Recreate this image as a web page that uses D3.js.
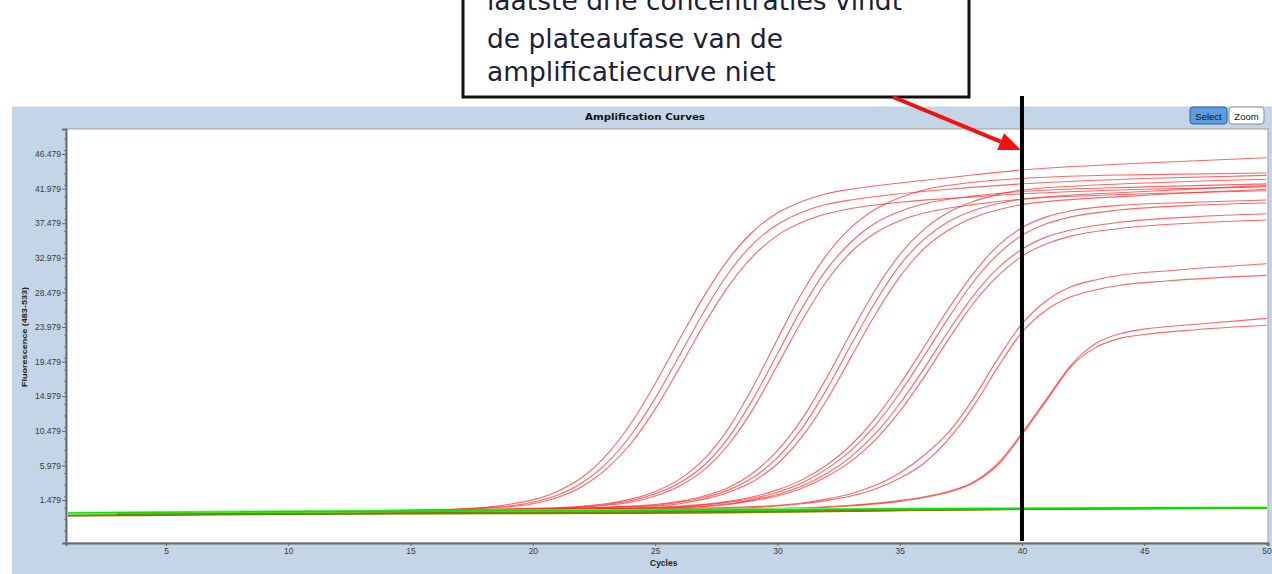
<!DOCTYPE html>
<html>
<head>
<meta charset="utf-8">
<script src="https://cdn.jsdelivr.net/npm/d3@7"></script>
<style>
body{margin:0;background:#fff;}
svg{display:block;}
</style>
</head>
<body>
<script>
// ---- data: [cycle, fluorescence] ----
const xTicks = [5, 10, 15, 20, 25, 30, 35, 40, 45, 50];
const yTicks = [1.479, 5.979, 10.479, 14.979, 19.479, 23.979, 28.479, 32.979, 37.479, 41.979, 46.479];

const curvesA = [
  [[1,-0.6],[3,-0.5],[8,-0.1],[13,0.1],[17,0.3],[19,0.9],[20,1.5],[21,2.6],[22,4.4],[23,7.3],[24,11.4],[25,16.6],[26,22.4],[27,28.0],[28,32.8],[29,36.4],[30,38.8],[31,40.3],[32,41.3],[33,41.9],[35,42.7],[37,43.4],[40,44.4],[45,45.3],[50,46.0]],
  [[1,-0.5],[8,-0.2],[15,0.1],[19,0.7],[20,1.2],[21,2.1],[22,3.7],[23,6.2],[24,9.9],[25,14.7],[26,20.3],[27,26.0],[28,31.0],[29,34.8],[30,37.3],[31,38.9],[32,39.9],[33,40.5],[35,41.3],[37,41.9],[40,42.6],[45,43.3],[50,43.7]],
  [[1,-0.5],[8,-0.2],[15,0.1],[19,0.6],[20,1.0],[21,1.8],[22,3.2],[23,5.5],[24,8.8],[25,13.3],[26,18.7],[27,24.3],[28,29.3],[29,33.2],[30,35.9],[31,37.6],[32,38.7],[33,39.4],[35,40.2],[37,40.7],[40,41.3],[45,41.9],[50,42.2]]
];
const curvesB = [
  [[1,-0.4],[10,0.0],[20,0.4],[23,1.0],[24,1.6],[25,2.6],[26,4.2],[27,6.8],[28,10.8],[29,16.2],[30,22.4],[31,28.4],[32,33.3],[33,36.9],[34,39.3],[35,40.8],[36,41.8],[38,42.8],[40,43.3],[45,43.8],[50,44.0]],
  [[1,-0.5],[10,-0.1],[20,0.3],[23,0.9],[24,1.4],[25,2.3],[26,3.7],[27,6.0],[28,9.6],[29,14.6],[30,20.5],[31,26.4],[32,31.4],[33,35.0],[34,37.5],[35,39.0],[36,40.0],[38,41.0],[40,41.6],[45,42.2],[50,42.6]],
  [[1,-0.5],[10,-0.1],[20,0.3],[23,0.8],[24,1.2],[25,2.0],[26,3.3],[27,5.4],[28,8.7],[29,13.3],[30,19.0],[31,24.8],[32,29.9],[33,33.7],[34,36.2],[35,37.8],[36,38.8],[38,39.9],[40,40.6],[45,41.3],[50,41.7]]
];
const curvesC = [
  [[1,-0.4],[10,0.0],[20,0.3],[25,0.9],[26,1.3],[27,2.0],[28,3.1],[29,5.0],[30,7.9],[31,12.0],[32,17.3],[33,23.2],[34,28.8],[35,33.4],[36,36.7],[37,38.9],[38,40.3],[39,41.2],[40,41.8],[45,42.7],[50,43.2]],
  [[1,-0.5],[10,-0.1],[20,0.3],[25,0.8],[26,1.2],[27,1.8],[28,2.8],[29,4.4],[30,7.0],[31,10.8],[32,15.8],[33,21.6],[34,27.2],[35,32.0],[36,35.4],[37,37.7],[38,39.1],[39,40.0],[40,40.6],[45,41.6],[50,42.4]],
  [[1,-0.5],[10,-0.1],[20,0.3],[25,0.7],[26,1.0],[27,1.6],[28,2.5],[29,3.9],[30,6.2],[31,9.7],[32,14.4],[33,20.0],[34,25.6],[35,30.5],[36,34.2],[37,36.6],[38,38.2],[39,39.2],[40,39.9],[45,41.1],[50,41.9]]
];
const curvesD = [
  [[1,-0.4],[10,0.0],[20,0.2],[26,0.7],[28,1.3],[29,1.9],[30,2.8],[31,4.1],[32,6.0],[33,8.6],[34,12.1],[35,16.5],[36,21.4],[37,26.4],[38,30.9],[39,34.5],[40,36.9],[41,38.3],[42,39.1],[44,39.8],[47,40.2],[50,40.5]],
  [[1,-0.5],[10,-0.1],[20,0.2],[26,0.6],[28,1.2],[29,1.7],[30,2.5],[31,3.7],[32,5.5],[33,7.9],[34,11.2],[35,15.4],[36,20.2],[37,25.2],[38,29.8],[39,33.4],[40,35.9],[41,37.4],[42,38.3],[44,39.2],[47,39.8],[50,40.1]],
  [[1,-0.5],[10,-0.1],[20,0.2],[26,0.5],[28,1.0],[29,1.5],[30,2.2],[31,3.3],[32,4.9],[33,7.1],[34,10.1],[35,14.0],[36,18.6],[37,23.5],[38,28.0],[39,31.6],[40,34.1],[41,35.7],[42,36.6],[44,37.6],[47,38.3],[50,38.7]],
  [[1,-0.5],[10,-0.1],[20,0.2],[26,0.5],[28,0.9],[29,1.4],[30,2.0],[31,3.0],[32,4.5],[33,6.5],[34,9.3],[35,13.0],[36,17.5],[37,22.4],[38,27.0],[39,30.6],[40,33.2],[41,34.8],[42,35.8],[44,36.8],[47,37.5],[50,37.9]]
];
const curvesE = [
  [[1,-0.4],[10,0.0],[20,0.2],[28,0.5],[30,0.8],[31,1.1],[32,1.6],[33,2.3],[34,3.4],[35,5.0],[36,7.3],[37,10.3],[38,14.6],[39,19.8],[40,24.4],[41,27.4],[42,29.2],[43,30.1],[44,30.7],[46,31.3],[50,32.2]],
  [[1,-0.5],[10,-0.1],[20,0.2],[28,0.4],[30,0.7],[31,1.0],[32,1.4],[33,2.0],[34,2.9],[35,4.3],[36,6.3],[37,9.4],[38,13.6],[39,18.7],[40,23.3],[41,26.2],[42,27.9],[43,28.8],[44,29.4],[46,30.0],[50,30.7]]
];
const curvesG = [
  [[1,-0.4],[10,0.0],[20,0.2],[30,0.4],[33,0.8],[35,1.4],[36,1.9],[37,2.6],[38,3.8],[39,6.2],[40,10.2],[41,14.6],[42,19.0],[43,21.8],[44,23.1],[45,23.7],[47,24.3],[50,25.1]],
  [[1,-0.5],[10,-0.1],[20,0.1],[30,0.3],[33,0.7],[35,1.3],[36,1.8],[37,2.5],[38,3.7],[39,6.0],[40,10.0],[41,14.4],[42,18.8],[43,21.3],[44,22.5],[45,23.0],[47,23.6],[50,24.2]]
];
const oliveCurves = [
  [[1,-0.55],[4,-0.5],[10,-0.35],[20,-0.25],[28,-0.15],[33,0.05],[40,0.3],[50,0.45]],
  [[3,-0.4],[8,-0.32],[16,-0.2],[24,-0.1],[32,0.05],[40,0.3],[50,0.45]]
];
const greenLight = [
  [[1,-0.2],[10,0.0],[20,0.1],[30,0.25],[40,0.38],[50,0.47]],
  [[1,-0.3],[12,-0.05],[25,0.1],[35,0.3],[50,0.48]]
];
const greenBright = [
  [[1,-0.2],[6,-0.1],[15,0.05],[25,0.15],[35,0.32],[45,0.44],[50,0.5]],
  [[8,-0.05],[14,0.02],[22,0.1],[33,0.25],[42,0.4],[50,0.46]]
];

// ---- layout ----
const width = 1272, height = 574;
const svg = d3.select('body').append('svg').attr('width', width).attr('height', height);
svg.append('rect').attr('width', width).attr('height', height).attr('fill', '#fff');

// blue instrument panel
svg.append('rect').attr('x', 12).attr('y', 106).attr('width', 1262).attr('height', 470).attr('fill', '#c3d5e6');
svg.append('line').attr('x1', 12).attr('x2', 1272).attr('y1', 106.5).attr('y2', 106.5).attr('stroke', '#dfe9f2');

svg.append('text').attr('x', 645).attr('y', 120).attr('text-anchor', 'middle')
  .attr('font-family', 'DejaVu Sans, Verdana, sans-serif').attr('font-size', 8.5).attr('font-weight', 'bold')
  .attr('textLength', 120).attr('lengthAdjust', 'spacingAndGlyphs')
  .attr('fill', '#111').text('Amplification Curves');

// Select / Zoom buttons
const btns = [{t: 'Select', x: 1190, w: 37, fill: '#5c9de0', stroke: '#2f5f9a'}, {t: 'Zoom', x: 1229, w: 35, fill: '#fff', stroke: '#8a8a8a'}];
btns.forEach(b => {
  svg.append('rect').attr('x', b.x).attr('y', 107).attr('width', b.w).attr('height', 17).attr('rx', 3)
    .attr('fill', b.fill).attr('stroke', b.stroke);
  svg.append('text').attr('x', b.x + b.w / 2).attr('y', 119.5).attr('text-anchor', 'middle')
    .attr('font-family', 'Liberation Sans, Arial, sans-serif').attr('font-size', 9.5).attr('fill', '#111').text(b.t);
});

const plot = {left: 66, top: 129, right: 1268, bottom: 543};
const x = d3.scaleLinear().domain([0.91, 50.06]).range([plot.left, plot.right]);
const y = d3.scaleLinear().domain([-4.11, 49.73]).range([plot.bottom, plot.top]);

svg.append('rect').attr('x', plot.left).attr('y', plot.top)
  .attr('width', plot.right - plot.left).attr('height', plot.bottom - plot.top)
  .attr('fill', '#fff').attr('stroke', '#a0a0a0');

// axes
const fontAxis = 'Liberation Sans, Arial, sans-serif';
const minor = d3.range(-3, 49.7, 1.5).map(v => +(v + 0.479).toFixed(3)).filter(v => v > -4 && v < 49.7);
svg.append('g').attr('transform', `translate(${plot.left},0)`)
  .call(d3.axisLeft(y).tickValues(minor).tickSize(2).tickFormat(''))
  .call(g => g.select('.domain').remove())
  .selectAll('line').attr('stroke', '#777');
const yAxis = svg.append('g').attr('transform', `translate(${plot.left},0)`)
  .call(d3.axisLeft(y).tickValues(yTicks).tickSize(4).tickPadding(1).tickFormat(d3.format('.3f')));
yAxis.select('.domain').attr('stroke', '#6a6a6a').attr('stroke-width', 2);
yAxis.selectAll('line').attr('stroke', '#666');
yAxis.selectAll('text').attr('font-family', fontAxis).attr('font-size', 8.5).attr('fill', '#3a3a3a');

const xAxis = svg.append('g').attr('transform', `translate(0,${plot.bottom})`)
  .call(d3.axisBottom(x).tickValues(xTicks).tickSize(3).tickPadding(2));
xAxis.select('.domain').attr('stroke', '#6a6a6a').attr('stroke-width', 2);
xAxis.selectAll('line').attr('stroke', '#666');
xAxis.selectAll('text').attr('font-family', fontAxis).attr('font-size', 8.5).attr('fill', '#3a3a3a');

svg.append('text').attr('transform', `translate(27,${337}) rotate(-90)`).attr('text-anchor', 'middle')
  .attr('font-family', fontAxis).attr('font-size', 8).attr('font-weight', 'bold').attr('fill', '#222')
  .attr('textLength', 100).attr('lengthAdjust', 'spacingAndGlyphs')
  .text('Fluorescence (483-533)');
svg.append('text').attr('x', 650).attr('y', 566)
  .attr('font-family', fontAxis).attr('font-size', 8.5).attr('font-weight', 'bold').attr('fill', '#222')
  .text('Cycles');

// curves
svg.append('clipPath').attr('id', 'clip').append('rect')
  .attr('x', plot.left + 1).attr('y', plot.top).attr('width', plot.right - plot.left - 1).attr('height', plot.bottom - plot.top - 1);
const line = d3.line().x(d => x(d[0])).y(d => y(d[1])).curve(d3.curveMonotoneX);
const cg = svg.append('g').attr('clip-path', 'url(#clip)');

const reds = [].concat(curvesA, curvesB, curvesC, curvesD, curvesE, curvesG);
cg.selectAll('path.red').data(reds).enter().append('path').attr('class', 'red')
  .attr('d', line).attr('fill', 'none').attr('stroke', '#ff2a2a').attr('stroke-width', 1.1).attr('stroke-opacity', 0.72);
cg.selectAll('path.glight').data(greenLight).enter().append('path').attr('class', 'glight')
  .attr('d', line).attr('fill', 'none').attr('stroke', '#80ff80').attr('stroke-width', 2.5);
cg.selectAll('path.olive').data(oliveCurves).enter().append('path').attr('class', 'olive')
  .attr('d', line).attr('fill', 'none').attr('stroke', '#7d7d00').attr('stroke-width', 1.8);
cg.selectAll('path.gbright').data(greenBright).enter().append('path').attr('class', 'gbright')
  .attr('d', line).attr('fill', 'none').attr('stroke', '#00e600').attr('stroke-width', 1.3);

// annotation: vertical marker at cycle 40
svg.append('line').attr('x1', x(40)).attr('x2', x(40)).attr('y1', 96).attr('y2', 541)
  .attr('stroke', '#000').attr('stroke-width', 4);

// callout box (its first line runs off the top of the picture, as in the original)
svg.append('rect').attr('x', 463).attr('y', -10).attr('width', 506).attr('height', 107)
  .attr('fill', '#fff').attr('stroke', '#111').attr('stroke-width', 3);
const callout = ['laatste drie concentraties vindt', 'de plateaufase van de', 'amplificatiecurve niet'];
const calloutY = [10, 48, 81];
svg.append('g').selectAll('text').data(callout).enter().append('text')
  .attr('x', 487).attr('y', (d, i) => calloutY[i])
  .attr('font-family', 'DejaVu Sans, Verdana, sans-serif').attr('font-size', 26.5).attr('fill', '#1d1d38')
  .text(d => d);

// red arrow
const tip = [x(40) - 1, y(47.0)], start = [893, 97];
const dx = tip[0] - start[0], dy = tip[1] - start[1], len = Math.hypot(dx, dy);
const ux = dx / len, uy = dy / len, hl = 22, hw = 9;
const base = [tip[0] - ux * hl, tip[1] - uy * hl];
svg.append('line').attr('x1', start[0]).attr('y1', start[1]).attr('x2', base[0]).attr('y2', base[1])
  .attr('stroke', '#f21010').attr('stroke-width', 4);
svg.append('path').attr('fill', '#f21010')
  .attr('d', `M${tip[0]},${tip[1]}L${base[0] - uy * hw},${base[1] + ux * hw}L${base[0] + uy * hw},${base[1] - ux * hw}Z`);
</script>
</body>
</html>
